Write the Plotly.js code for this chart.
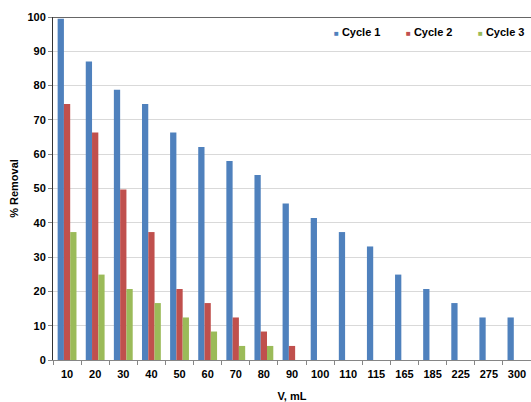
<!DOCTYPE html>
<html>
<head>
<meta charset="utf-8">
<script src="https://cdn.plot.ly/plotly-3.0.1.min.js"></script>
<style>html,body{margin:0;padding:0;background:#fff;}#chart{width:531px;height:402px;}</style>
</head>
<body>
<div id="chart"></div>
<script>
const categories = ['10','20','30','40','50','60','70','80','90','100','110','115','165','185','225','275','300'];
const cycle1 = [99.5, 87.0, 78.8, 74.6, 66.3, 62.1, 58.0, 53.9, 45.6, 41.4, 37.3, 33.1, 24.9, 20.7, 16.6, 12.4, 12.4];
const cycle2 = [74.6, 66.3, 49.7, 37.3, 20.7, 16.6, 12.4, 8.3, 4.1, null, null, null, null, null, null, null, null];
const cycle3 = [37.3, 24.9, 20.7, 16.6, 12.4, 8.3, 4.1, 4.1, null, null, null, null, null, null, null, null, null];
const seriesNames = ['Cycle 1', 'Cycle 2', 'Cycle 3'];
const seriesColors = ['#4F81BD', '#C0504D', '#9BBB59'];
const legendX = [0.583, 0.734, 0.884];

const font = {family: 'Liberation Sans, Arial, sans-serif', size: 11, color: '#000', weight: 'bold'};
const values = [cycle1, cycle2, cycle3];
const data = values.map((v, i) => ({
  type: 'bar',
  x: categories,
  y: v,
  name: seriesNames[i],
  marker: {color: seriesColors[i], line: {width: 0}},
  hoverinfo: 'x+y+name'
}));

const legendAnnotations = seriesNames.map((n, i) => ({
  xref: 'paper', yref: 'paper', x: legendX[i], y: 0.956,
  xanchor: 'left', yanchor: 'middle', showarrow: false,
  text: '<span style="color:' + seriesColors[i] + ';font-size:8px">■</span> ' + n,
  font: font
}));

const layout = {
  width: 531, height: 402,
  margin: {l: 53, r: 0, t: 17, b: 42},
  paper_bgcolor: '#fff', plot_bgcolor: '#fff',
  font: font,
  barmode: 'group',
  bargap: 0.33,
  bargroupgap: 0,
  showlegend: false,
  xaxis: {
    type: 'category',
    showline: true, linecolor: '#868686', linewidth: 1,
    ticks: 'outside', tickson: 'boundaries', ticklen: 4, tickcolor: '#868686',
    ticklabelstandoff: 4,
    tickfont: font, showgrid: false, zeroline: false,
    title: {text: 'V, mL', font: font, standoff: 14}
  },
  yaxis: {
    range: [0, 100], dtick: 10, tick0: 0,
    showline: true, linecolor: '#333', linewidth: 1,
    ticks: 'outside', ticklen: 4, tickcolor: '#868686',
    gridcolor: '#d9d9d9', gridwidth: 1, zeroline: false,
    tickfont: font,
    title: {text: '% Removal', font: font, standoff: 6}
  },
  annotations: legendAnnotations,
  shapes: [{type: 'line', xref: 'paper', yref: 'y', x0: 0, x1: 1, y0: 100, y1: 100,
            line: {color: '#333', width: 1.5}}]
};

Plotly.newPlot('chart', data, layout, {displayModeBar: false, staticPlot: true});
</script>
</body>
</html>
